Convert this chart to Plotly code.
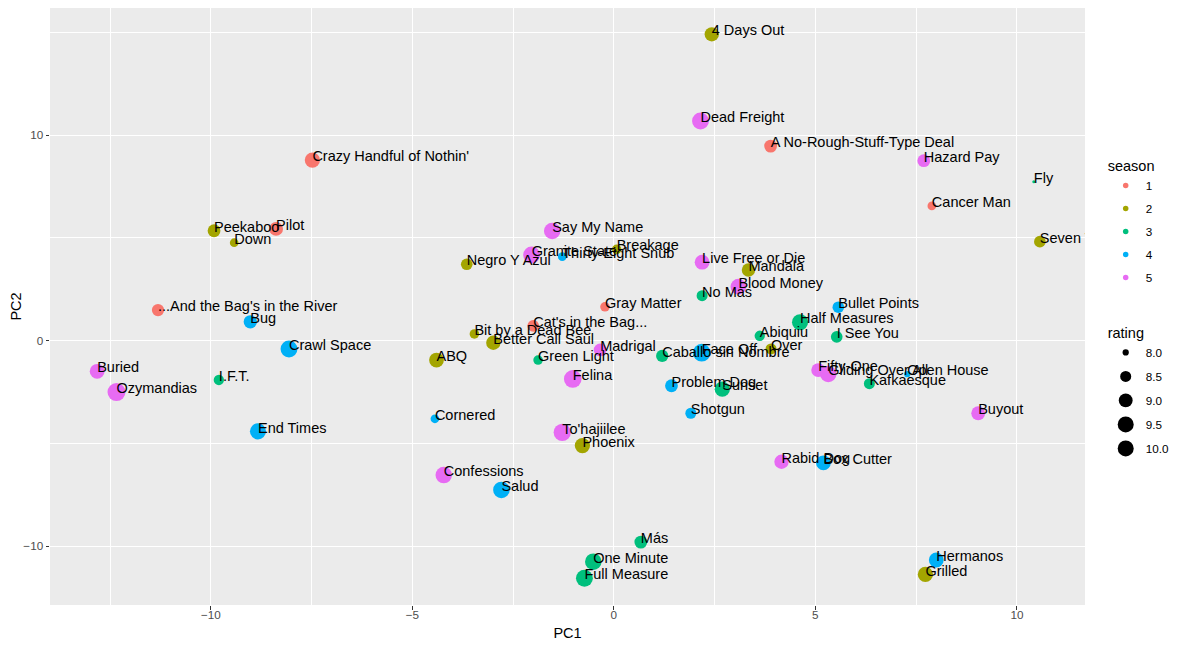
import numpy as np
import plotly.graph_objects as go

# episode labels, season, IMDb-style rating and the first two principal components
episode = [
    "Pilot", "Cat's in the Bag...", "...And the Bag's in the River", "Cancer Man",
    "Gray Matter", "Crazy Handful of Nothin'", "A No-Rough-Stuff-Type Deal",
    "Seven Thirty-Seven", "Grilled", "Bit by a Dead Bee", "Down", "Breakage",
    "Peekaboo", "Negro Y Azul", "Better Call Saul", "4 Days Out", "Over",
    "Mandala", "Phoenix", "ABQ",
    "No Mas", "Caballo sin Nombre", "I.F.T.", "Green Light", "Más", "Sunset",
    "One Minute", "I See You", "Kafkaesque", "Fly", "Abiquiu", "Half Measures",
    "Full Measure",
    "Box Cutter", "Thirty-Eight Snub", "Open House", "Bullet Points", "Shotgun",
    "Cornered", "Problem Dog", "Hermanos", "Bug", "Salud", "Crawl Space",
    "End Times", "Face Off",
    "Live Free or Die", "Madrigal", "Hazard Pay", "Fifty-One", "Dead Freight",
    "Buyout", "Say My Name", "Gliding Over All", "Blood Money", "Buried",
    "Confessions", "Rabid Dog", "To'hajiilee", "Ozymandias", "Granite State",
    "Felina",
]
season = [1] * 7 + [2] * 13 + [3] * 13 + [4] * 13 + [5] * 16
rating = [
    9.0, 8.6, 8.7, 8.2, 8.3, 9.3, 8.8,
    8.6, 9.3, 8.3, 8.2, 8.3, 8.8, 8.6, 9.1, 9.1, 8.5, 8.9, 9.3, 9.2,
    8.5, 8.7, 8.4, 8.3, 8.8, 9.3, 9.6, 8.6, 8.5, 7.9, 8.4, 9.5, 9.7,
    9.2, 8.2, 8.0, 8.6, 8.5, 8.2, 8.8, 9.2, 8.9, 9.6, 9.7, 9.5, 9.9,
    9.2, 8.8, 8.8, 9.0, 9.7, 9.0, 9.6, 9.6, 9.4, 9.2, 9.6, 9.1, 9.8, 10.0, 9.7, 9.9,
]
pc1 = [
    -8.38, -2.00, -11.31, 7.89, -0.22, -7.48, 3.89,
    10.57, 7.73, -3.46, -9.42, 0.07, -9.92, -3.65, -2.99, 2.43, 3.90, 3.34, -0.78, -4.40,
    2.19, 1.20, -9.80, -1.88, 0.67, 2.69, -0.51, 5.53, 6.34, 10.42, 3.62, 4.62, -0.73,
    5.20, -1.28, 7.28, 5.57, 1.91, -4.44, 1.43, 8.00, -9.02, -2.79, -8.06, -8.83, 2.18,
    2.19, -0.34, 7.69, 5.07, 2.15, 9.04, -1.53, 5.32, 3.09, -12.82, -4.22, 4.16, -1.28,
    -12.34, -2.04, -1.02,
]
pc2 = [
    5.43, 0.71, 1.48, 6.55, 1.64, 8.78, 9.46,
    4.81, -11.38, 0.32, 4.76, 4.44, 5.34, 3.71, -0.11, 14.90, -0.41, 3.43, -5.11, -0.95,
    2.18, -0.75, -1.92, -0.95, -9.81, -2.37, -10.76, 0.18, -2.10, 7.73, 0.23, 0.89, -11.57,
    -5.95, 4.08, -1.64, 1.62, -3.54, -3.81, -2.20, -10.68, 0.91, -7.27, -0.41, -4.42, -0.59,
    3.81, -0.46, 8.75, -1.44, 10.68, -3.54, 5.33, -1.63, 2.62, -1.50, -6.55, -5.90, -4.47,
    -2.51, 4.16, -1.87,
]
seasons = [1, 2, 3, 4, 5]
rating_breaks = [8.0, 8.5, 9.0, 9.5, 10.0]

COLOURS = {1: '#F8766D', 2: '#A3A500', 3: '#00BF7D', 4: '#00B0F6', 5: '#E76BF3'}
FONT = 'Liberation Sans, Arial, sans-serif'
XRANGE = [-13.99, 11.69]
YRANGE = [-12.87, 16.18]
TEXT_LIFT = 0.12  # labels sit a little above the point centre, as in ggplot

rmin, rmax = min(rating), max(rating)

def sizeScale(r):
    # ggplot2 style area scale, range 1..6
    r = np.asarray(r, dtype=float)
    return 3.0 * (1 + 5 * np.sqrt(np.clip((r - rmin) / (rmax - rmin), 0, 1)))

fig = go.Figure()
for s in seasons:
    idx = [i for i, v in enumerate(season) if v == s]
    fig.add_trace(go.Scatter(
        x=[pc1[i] for i in idx], y=[pc2[i] for i in idx], mode='markers',
        marker=dict(color=COLOURS[s], size=sizeScale([rating[i] for i in idx]), line=dict(width=0), opacity=1),
        showlegend=False, hoverinfo='skip'))

fig.add_trace(go.Scatter(
    x=pc1, y=pc2, text=episode, mode='text', textposition='middle right',
    textfont=dict(family=FONT, size=14.5, color='black'), yaxis='y2',
    showlegend=False, hoverinfo='skip', cliponaxis=True))

# legend keys
for s in seasons:
    fig.add_trace(go.Scatter(
        x=[None], y=[None], mode='markers', name=str(s), legendgroup='s%d' % s,
        marker=dict(color=COLOURS[s], size=5.5), legend='legend'))
for r in rating_breaks:
    fig.add_trace(go.Scatter(
        x=[None], y=[None], mode='markers', name='%.1f' % r, legendgroup='r%.1f' % r,
        marker=dict(color='black', size=float(sizeScale([r])[0])), legend='legend2'))

axisStyle = dict(
    showgrid=True, gridcolor='white', gridwidth=1.1, zeroline=False, showline=False,
    ticks='outside', ticklen=3.5, tickwidth=1, tickcolor='#333333', automargin=False,
    tickfont=dict(family=FONT, size=11.7, color='#4D4D4D'),
)
fig.update_xaxes(range=XRANGE, tick0=0, dtick=5, ticklabelstandoff=-5,
                 minor=dict(tick0=0, dtick=2.5, showgrid=True, gridcolor='white', gridwidth=0.55),
                 title=dict(text='PC1', font=dict(family=FONT, size=14.5, color='black'), standoff=8),
                 **axisStyle)
fig.update_yaxes(range=YRANGE, tick0=0, dtick=10,
                 minor=dict(tick0=0, dtick=5, showgrid=True, gridcolor='white', gridwidth=0.55),
                 title=dict(text='PC2', font=dict(family=FONT, size=14.5, color='black'), standoff=1),
                 **axisStyle)

legendStyle = dict(xanchor='left', yanchor='top', bgcolor='rgba(0,0,0,0)',
                   font=dict(family=FONT, size=11.7, color='black'), itemsizing='trace')
fig.update_layout(
    width=1163, height=634,
    margin=dict(l=42, r=86, t=0, b=37, autoexpand=False),
    plot_bgcolor='#EBEBEB', paper_bgcolor='white',
    font=dict(family=FONT),
    yaxis2=dict(overlaying='y', range=[YRANGE[0] - TEXT_LIFT, YRANGE[1] - TEXT_LIFT], visible=False),
    legend=dict(title=dict(text='season', font=dict(family=FONT, size=14.5)), x=1.020, y=0.7586,
                tracegroupgap=4, **legendStyle),
    legend2=dict(title=dict(text='rating', font=dict(family=FONT, size=14.5)), x=1.020, y=0.479,
                 tracegroupgap=5, **legendStyle),
)

fig.write_html("out.html")
